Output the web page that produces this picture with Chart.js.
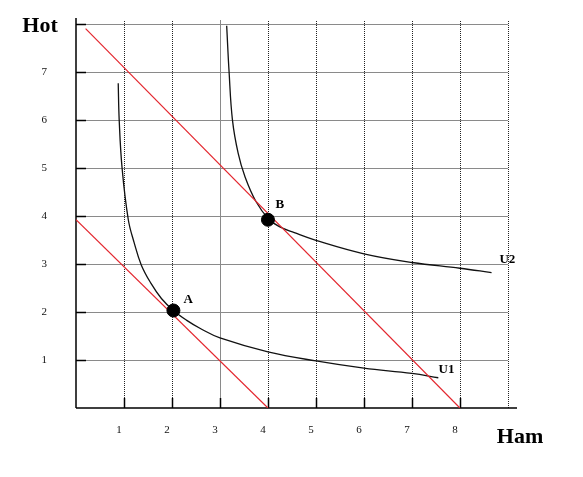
<!DOCTYPE html>
<html>
<head>
<meta charset="utf-8">
<script src="https://cdn.jsdelivr.net/npm/chart.js@4/dist/chart.umd.min.js"></script>
<style>
  html, body { margin: 0; padding: 0; background: #fff; }
  canvas { display: block; }
</style>
</head>
<body>
<canvas id="indiff" width="583" height="477"></canvas>
<script>
// axis ticks
const xTicks = [1, 2, 3, 4, 5, 6, 7, 8];
const yTicks = [1, 2, 3, 4, 5, 6, 7];
const xGrid = [1, 2, 3, 4, 5, 6, 7, 8, 9];
const yGrid = [1, 2, 3, 4, 5, 6, 7, 8];

// indifference curves (Ham, Hot)
const u1 = [
  {x: 0.88, y: 6.76}, {x: 0.90, y: 6.0}, {x: 0.96, y: 5.0}, {x: 1.09, y: 3.92},
  {x: 1.21, y: 3.45}, {x: 1.36, y: 2.98}, {x: 1.56, y: 2.6}, {x: 1.78, y: 2.28},
  {x: 2.03, y: 2.03}, {x: 2.3, y: 1.83}, {x: 2.6, y: 1.65}, {x: 3.0, y: 1.46},
  {x: 4.0, y: 1.17}, {x: 5.0, y: 0.98}, {x: 6.0, y: 0.83}, {x: 7.0, y: 0.72},
  {x: 7.55, y: 0.63}
];
const u2 = [
  {x: 3.14, y: 7.96}, {x: 3.19, y: 7.0}, {x: 3.26, y: 6.0}, {x: 3.38, y: 5.3},
  {x: 3.52, y: 4.82}, {x: 3.75, y: 4.3}, {x: 4.02, y: 3.93}, {x: 4.25, y: 3.77},
  {x: 4.55, y: 3.65}, {x: 5.0, y: 3.49}, {x: 6.0, y: 3.21}, {x: 7.0, y: 3.03},
  {x: 8.0, y: 2.91}, {x: 8.66, y: 2.82}
];

// budget lines
const budget1 = [{x: 0, y: 3.92}, {x: 4.0, y: 0}];
const budget2 = [{x: 0.2, y: 7.9}, {x: 8.0, y: 0}];

// optimum points
const optima = [{x: 2.03, y: 2.03}, {x: 4.0, y: 3.92}];

// text labels in data coords
const labelText = ["A", "B", "U1", "U2"];
const labelX = [2.34, 4.25, 7.72, 8.99];
const labelY = [2.26, 4.24, 0.80, 3.08];

const serif = "'Liberation Serif', 'Times New Roman', serif";

const gridPlugin = {
  id: 'grid',
  beforeDatasetsDraw(chart) {
    const c = chart.ctx, xs = chart.scales.x, ys = chart.scales.y;
    const area = chart.chartArea;
    const y0 = ys.getPixelForValue(0);
    const x0 = xs.getPixelForValue(0);
    c.save();
    c.lineWidth = 1;
    // horizontal grid
    c.strokeStyle = '#8a8a8a';
    yGrid.forEach(v => {
      const py = Math.round(ys.getPixelForValue(v)) + 0.5;
      c.beginPath();
      c.moveTo(x0, py);
      c.lineTo(xs.getPixelForValue(9), py);
      c.stroke();
    });
    // vertical grid
    xGrid.forEach(v => {
      const px = Math.round(xs.getPixelForValue(v)) + 0.5;
      c.beginPath();
      if (v === 3) {
        c.strokeStyle = '#8a8a8a';
        c.setLineDash([]);
      } else {
        c.strokeStyle = '#222';
        c.setLineDash([1, 1]);
      }
      c.moveTo(px, y0);
      c.lineTo(px, area.top + 1);
      c.stroke();
    });
    c.setLineDash([]);
    // axes
    c.strokeStyle = '#000';
    c.lineWidth = 1.5;
    c.beginPath();
    c.moveTo(x0, y0);
    c.lineTo(x0, area.top - 1);
    c.moveTo(x0, y0);
    c.lineTo(area.right, y0);
    c.stroke();
    // inner tick marks
    yGrid.forEach(v => {
      const py = Math.round(ys.getPixelForValue(v)) + 0.5;
      c.beginPath();
      c.moveTo(x0, py);
      c.lineTo(x0 + 10, py);
      c.stroke();
    });
    xTicks.forEach(v => {
      const px = Math.round(xs.getPixelForValue(v)) + 0.5;
      c.beginPath();
      c.moveTo(px, y0);
      c.lineTo(px, y0 - 10);
      c.stroke();
    });
    c.restore();
  },
  afterDatasetsDraw(chart) {
    const c = chart.ctx, xs = chart.scales.x, ys = chart.scales.y;
    c.save();
    c.fillStyle = '#000';
    c.textAlign = 'center';
    c.textBaseline = 'middle';
    c.font = 'bold 13px ' + serif;
    labelText.forEach((t, i) => {
      c.fillText(t, xs.getPixelForValue(labelX[i]), ys.getPixelForValue(labelY[i]));
    });
    c.font = 'bold 22px ' + serif;
    c.fillText('Hot', 40, 26);
    c.fillText('Ham', 520, 437);
    c.restore();
  }
};

new Chart(document.getElementById('indiff'), {
  type: 'scatter',
  data: {
    datasets: [
      {data: optima, backgroundColor: '#000', borderColor: '#000', pointRadius: 6.5, order: 0},
      {data: u1, showLine: true, borderColor: '#111', borderWidth: 1.3, pointRadius: 0,
       tension: 0.4, order: 2},
      {data: u2, showLine: true, borderColor: '#111', borderWidth: 1.3, pointRadius: 0,
       tension: 0.4, order: 2},
      {data: budget1, showLine: true, borderColor: '#e3262e', borderWidth: 1.2, pointRadius: 0, order: 1},
      {data: budget2, showLine: true, borderColor: '#e3262e', borderWidth: 1.2, pointRadius: 0, order: 1}
    ]
  },
  options: {
    responsive: false,
    animation: false,
    layout: {padding: {top: 19, right: 66, left: 0, bottom: 0}},
    plugins: {legend: {display: false}, tooltip: {enabled: false}},
    scales: {
      x: {
        type: 'linear', min: 0, max: 9.19,
        afterBuildTicks: s => { s.ticks = xTicks.map(v => ({value: v})); },
        afterFit: s => { s.height = 69; s.paddingLeft = 0; s.paddingRight = 0; },
        grid: {display: false, drawTicks: false},
        border: {display: false},
        ticks: {padding: 16, labelOffset: -5, color: '#111', font: {family: serif, size: 11}}
      },
      y: {
        type: 'linear', min: 0, max: 8.1,
        afterBuildTicks: s => { s.ticks = yTicks.map(v => ({value: v})); },
        afterFit: s => { s.width = 76; s.paddingTop = 0; s.paddingBottom = 0; },
        grid: {display: false, drawTicks: false},
        border: {display: false},
        ticks: {padding: 29, color: '#111', font: {family: serif, size: 11}}
      }
    }
  },
  plugins: [gridPlugin]
});
</script>
</body>
</html>
